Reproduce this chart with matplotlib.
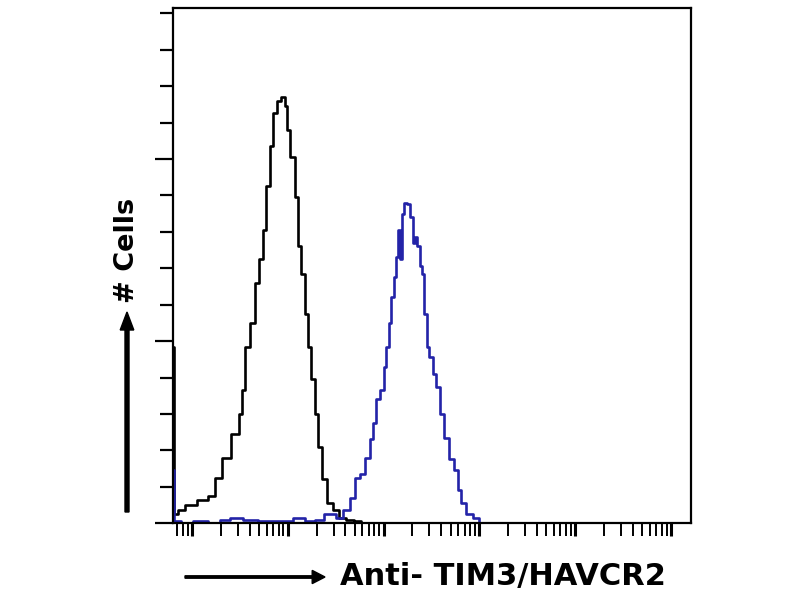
import matplotlib
matplotlib.use("Agg")
import matplotlib.pyplot as plt
from matplotlib.ticker import LogLocator, MultipleLocator, NullFormatter

# Control (isotype) histogram - black
ctrl_x = [0.63, 0.68, 0.75, 0.95, 1.30, 1.66, 1.82, 2.31, 2.81, 3.32, 3.40, 3.83, 4.32,
          4.75, 5.36, 5.76, 6.19, 6.81, 7.32, 8.25, 8.87, 9.77, 10.0, 11.3, 12.4, 13.3,
          14.3, 15.8, 16.9, 18.2, 20.0, 21.5, 24.3, 27.4, 32.4, 36.5, 44.2, 53.6, 63.5, 80.0]
ctrl_y = [97, 5, 7, 10, 13, 15, 25, 36, 49, 60, 73, 97, 110,
          132, 145, 161, 185, 207, 225, 232, 234, 229, 216, 201, 179, 152,
          137, 115, 97, 79, 60, 42, 24, 11, 7, 3, 2, 1, 0, 0]

# Anti-TIM3/HAVCR2 histogram - blue
tim3_x = [0.63, 0.68, 0.85, 1.21, 1.74, 2.21, 2.81, 4.02, 5.76, 9.3, 13.3, 16.9, 21.5,
          26.1, 29.4, 34.8, 41.1, 47.3, 53.4, 60.4, 68.0, 75.0, 80.8, 86.6, 97.6, 102,
          110, 115, 124, 130, 139, 146, 154, 158, 170, 178, 195, 210, 220, 231, 248,
          254, 279, 286, 316, 340, 364, 410, 452, 510, 574, 617, 663, 780, 928, 1039, 1200]
tim3_y = [29, 1, 0, 1, 0, 2, 3, 2, 1, 1, 3, 1, 2,
          5, 5, 3, 7, 14, 25, 27, 36, 46, 55, 68, 73, 86,
          97, 110, 124, 135, 146, 161, 145, 170, 176, 175, 168, 154, 157, 152, 141,
          137, 115, 97, 91, 82, 75, 60, 47, 35, 29, 18, 11, 5, 3, 0, 0]

x_label = "Anti- TIM3/HAVCR2"
y_label = "# Cells"

fig = plt.figure(figsize=(8, 6), dpi=100)
ax = fig.add_axes([0.216, 0.128, 0.648, 0.859])

ax.plot(ctrl_x, ctrl_y, drawstyle="steps-mid", color="black", lw=1.9)
ax.plot(tim3_x, tim3_y, drawstyle="steps-mid", color="#2323a8", lw=1.9)

ax.set_xscale("log")
ax.set_xlim(10 ** -0.2, 10 ** 5.21)
ax.set_ylim(0, 283)

ax.xaxis.set_major_locator(LogLocator(base=10, numticks=10))
ax.xaxis.set_minor_locator(LogLocator(base=10, subs=range(2, 10), numticks=20))
ax.xaxis.set_major_formatter(NullFormatter())
ax.xaxis.set_minor_formatter(NullFormatter())
ax.yaxis.set_major_locator(MultipleLocator(100))
ax.yaxis.set_minor_locator(MultipleLocator(20))
ax.yaxis.set_major_formatter(NullFormatter())

ax.tick_params(axis="x", which="major", direction="out", length=9, width=2.2, color="black")
ax.tick_params(axis="x", which="minor", direction="out", length=9, width=1.4, color="black")
ax.tick_params(axis="y", which="major", direction="out", length=13, width=1.6, color="black")
ax.tick_params(axis="y", which="minor", direction="out", length=9.5, width=1.6, color="black")

for s in ax.spines.values():
    s.set_linewidth(1.6)
    s.set_color("black")

# Axis labels with arrows (figure coordinates)
fig.text(340 / 800, 1 - 577 / 600, x_label, ha="left", va="center",
         fontsize=22, fontweight="bold", family="DejaVu Sans")
fig.text(127 / 800, 1 - 250 / 600, y_label, ha="center", va="center", rotation=90,
         fontsize=19.5, fontweight="bold", family="DejaVu Sans")

fig.patches.append(matplotlib.patches.FancyArrow(
    185 / 800, 1 - 577 / 600, 140 / 800, 0, width=0.004, head_width=0.022,
    head_length=0.016, length_includes_head=True, color="black",
    transform=fig.transFigure, figure=fig))
fig.patches.append(matplotlib.patches.FancyArrow(
    127 / 800, 1 - 512 / 600, 0, 200 / 600, width=0.005, head_width=0.017,
    head_length=0.03, length_includes_head=True, color="black",
    transform=fig.transFigure, figure=fig))

fig.savefig("out.png", dpi=100)
